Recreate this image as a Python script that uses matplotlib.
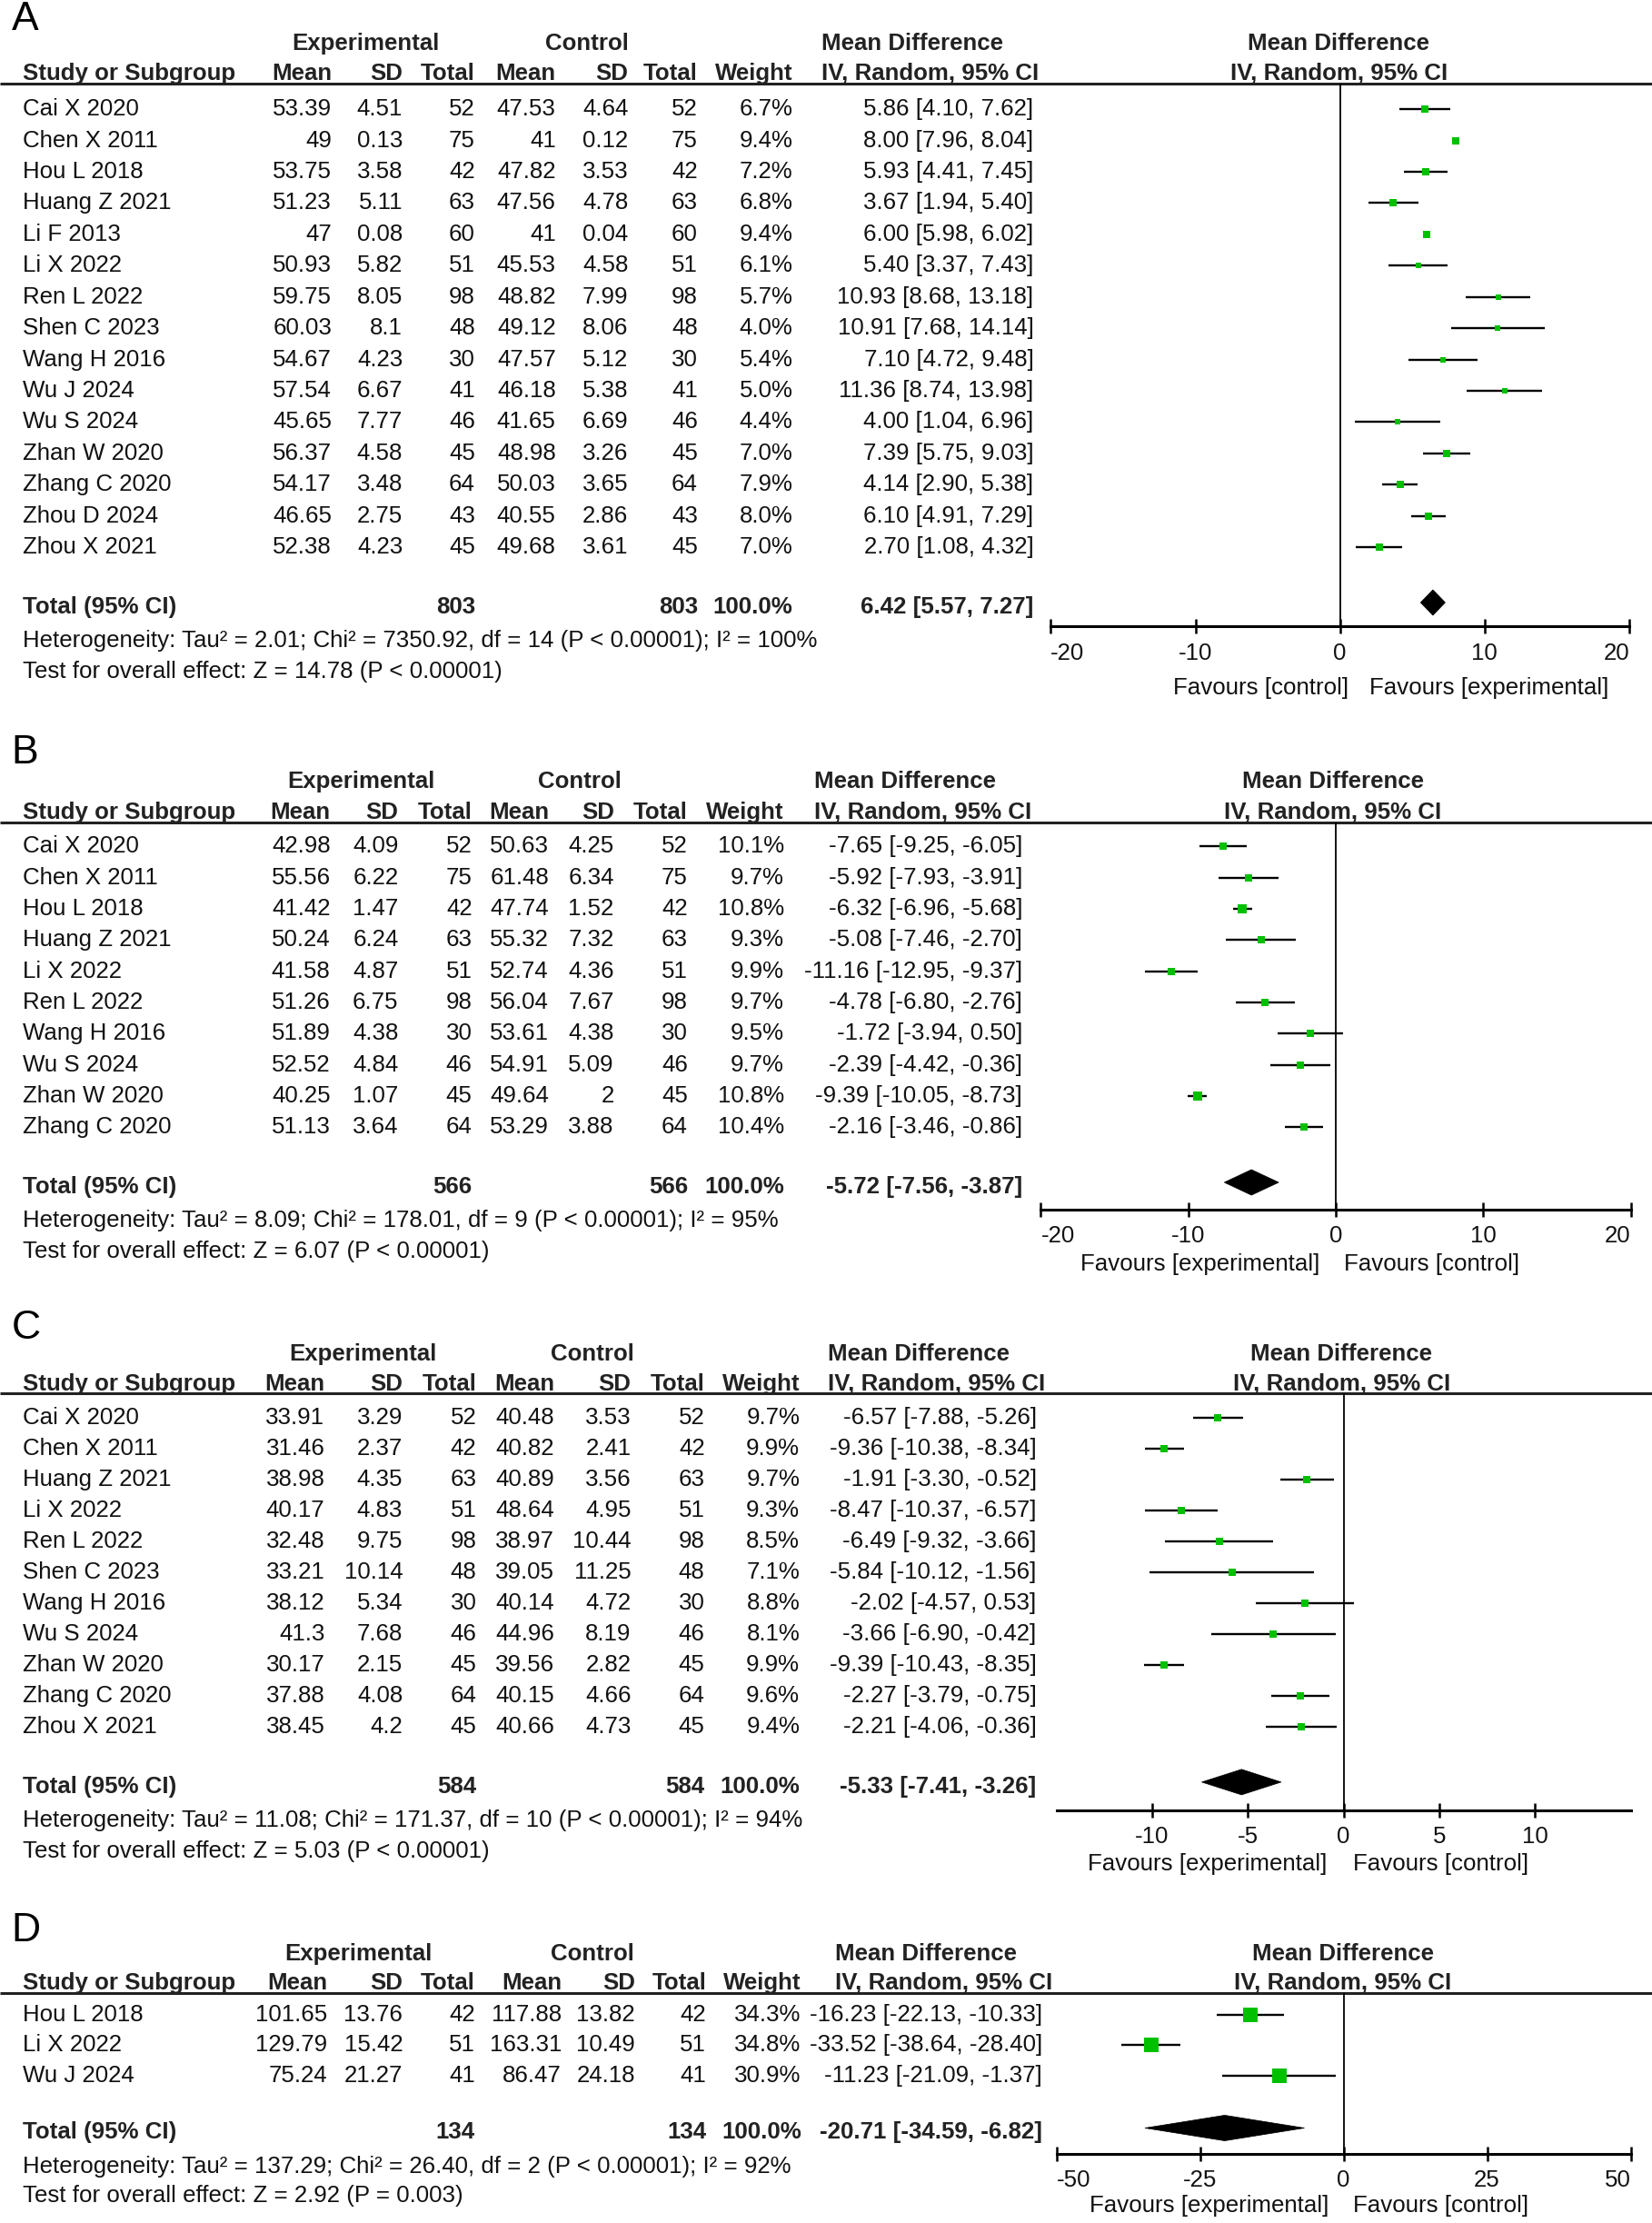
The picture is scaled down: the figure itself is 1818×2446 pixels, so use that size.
import numpy as np
import matplotlib.pyplot as plt
from matplotlib.patches import Polygon

plt.rcParams['font.family'] = ['Liberation Sans', 'DejaVu Sans']
plt.rcParams['axes.unicode_minus'] = False

W, H = 1165, 1568   # layout grid, the figure is drawn on this scale
FS = 18.6
GREEN = '#00C000'

# ---------------- Panel A
a_study = ['Cai X 2020', 'Chen X 2011', 'Hou L 2018', 'Huang Z 2021', 'Li F 2013',
           'Li X 2022', 'Ren L 2022', 'Shen C 2023', 'Wang H 2016', 'Wu J 2024',
           'Wu S 2024', 'Zhan W 2020', 'Zhang C 2020', 'Zhou D 2024', 'Zhou X 2021']
a_exp_mean = [53.39, 49, 53.75, 51.23, 47, 50.93, 59.75, 60.03, 54.67, 57.54, 45.65, 56.37, 54.17, 46.65, 52.38]
a_exp_sd = [4.51, 0.13, 3.58, 5.11, 0.08, 5.82, 8.05, 8.1, 4.23, 6.67, 7.77, 4.58, 3.48, 2.75, 4.23]
a_exp_n = [52, 75, 42, 63, 60, 51, 98, 48, 30, 41, 46, 45, 64, 43, 45]
a_ctl_mean = [47.53, 41, 47.82, 47.56, 41, 45.53, 48.82, 49.12, 47.57, 46.18, 41.65, 48.98, 50.03, 40.55, 49.68]
a_ctl_sd = [4.64, 0.12, 3.53, 4.78, 0.04, 4.58, 7.99, 8.06, 5.12, 5.38, 6.69, 3.26, 3.65, 2.86, 3.61]
a_ctl_n = [52, 75, 42, 63, 60, 51, 98, 48, 30, 41, 46, 45, 64, 43, 45]
a_weight = [6.7, 9.4, 7.2, 6.8, 9.4, 6.1, 5.7, 4.0, 5.4, 5.0, 4.4, 7.0, 7.9, 8.0, 7.0]
a_md = [5.86, 8.00, 5.93, 3.67, 6.00, 5.40, 10.93, 10.91, 7.10, 11.36, 4.00, 7.39, 4.14, 6.10, 2.70]
a_lo = [4.10, 7.96, 4.41, 1.94, 5.98, 3.37, 8.68, 7.68, 4.72, 8.74, 1.04, 5.75, 2.90, 4.91, 1.08]
a_hi = [7.62, 8.04, 7.45, 5.40, 6.02, 7.43, 13.18, 14.14, 9.48, 13.98, 6.96, 9.03, 5.38, 7.29, 4.32]
a_total = [803, 803, 6.42, 5.57, 7.27]
a_het = 'Heterogeneity: Tau² = 2.01; Chi² = 7350.92, df = 14 (P < 0.00001); I² = 100%'
a_test = 'Test for overall effect: Z = 14.78 (P < 0.00001)'
a_fav = ['Favours [control]', 'Favours [experimental]']

# ---------------- Panel B
b_study = ['Cai X 2020', 'Chen X 2011', 'Hou L 2018', 'Huang Z 2021', 'Li X 2022',
           'Ren L 2022', 'Wang H 2016', 'Wu S 2024', 'Zhan W 2020', 'Zhang C 2020']
b_exp_mean = [42.98, 55.56, 41.42, 50.24, 41.58, 51.26, 51.89, 52.52, 40.25, 51.13]
b_exp_sd = [4.09, 6.22, 1.47, 6.24, 4.87, 6.75, 4.38, 4.84, 1.07, 3.64]
b_exp_n = [52, 75, 42, 63, 51, 98, 30, 46, 45, 64]
b_ctl_mean = [50.63, 61.48, 47.74, 55.32, 52.74, 56.04, 53.61, 54.91, 49.64, 53.29]
b_ctl_sd = [4.25, 6.34, 1.52, 7.32, 4.36, 7.67, 4.38, 5.09, 2, 3.88]
b_ctl_n = [52, 75, 42, 63, 51, 98, 30, 46, 45, 64]
b_weight = [10.1, 9.7, 10.8, 9.3, 9.9, 9.7, 9.5, 9.7, 10.8, 10.4]
b_md = [-7.65, -5.92, -6.32, -5.08, -11.16, -4.78, -1.72, -2.39, -9.39, -2.16]
b_lo = [-9.25, -7.93, -6.96, -7.46, -12.95, -6.80, -3.94, -4.42, -10.05, -3.46]
b_hi = [-6.05, -3.91, -5.68, -2.70, -9.37, -2.76, 0.50, -0.36, -8.73, -0.86]
b_total = [566, 566, -5.72, -7.56, -3.87]
b_het = 'Heterogeneity: Tau² = 8.09; Chi² = 178.01, df = 9 (P < 0.00001); I² = 95%'
b_test = 'Test for overall effect: Z = 6.07 (P < 0.00001)'
b_fav = ['Favours [experimental]', 'Favours [control]']

# ---------------- Panel C
c_study = ['Cai X 2020', 'Chen X 2011', 'Huang Z 2021', 'Li X 2022', 'Ren L 2022', 'Shen C 2023',
           'Wang H 2016', 'Wu S 2024', 'Zhan W 2020', 'Zhang C 2020', 'Zhou X 2021']
c_exp_mean = [33.91, 31.46, 38.98, 40.17, 32.48, 33.21, 38.12, 41.3, 30.17, 37.88, 38.45]
c_exp_sd = [3.29, 2.37, 4.35, 4.83, 9.75, 10.14, 5.34, 7.68, 2.15, 4.08, 4.2]
c_exp_n = [52, 42, 63, 51, 98, 48, 30, 46, 45, 64, 45]
c_ctl_mean = [40.48, 40.82, 40.89, 48.64, 38.97, 39.05, 40.14, 44.96, 39.56, 40.15, 40.66]
c_ctl_sd = [3.53, 2.41, 3.56, 4.95, 10.44, 11.25, 4.72, 8.19, 2.82, 4.66, 4.73]
c_ctl_n = [52, 42, 63, 51, 98, 48, 30, 46, 45, 64, 45]
c_weight = [9.7, 9.9, 9.7, 9.3, 8.5, 7.1, 8.8, 8.1, 9.9, 9.6, 9.4]
c_md = [-6.57, -9.36, -1.91, -8.47, -6.49, -5.84, -2.02, -3.66, -9.39, -2.27, -2.21]
c_lo = [-7.88, -10.38, -3.30, -10.37, -9.32, -10.12, -4.57, -6.90, -10.43, -3.79, -4.06]
c_hi = [-5.26, -8.34, -0.52, -6.57, -3.66, -1.56, 0.53, -0.42, -8.35, -0.75, -0.36]
c_total = [584, 584, -5.33, -7.41, -3.26]
c_het = 'Heterogeneity: Tau² = 11.08; Chi² = 171.37, df = 10 (P < 0.00001); I² = 94%'
c_test = 'Test for overall effect: Z = 5.03 (P < 0.00001)'
c_fav = ['Favours [experimental]', 'Favours [control]']

# ---------------- Panel D
d_study = ['Hou L 2018', 'Li X 2022', 'Wu J 2024']
d_exp_mean = [101.65, 129.79, 75.24]
d_exp_sd = [13.76, 15.42, 21.27]
d_exp_n = [42, 51, 41]
d_ctl_mean = [117.88, 163.31, 86.47]
d_ctl_sd = [13.82, 10.49, 24.18]
d_ctl_n = [42, 51, 41]
d_weight = [34.3, 34.8, 30.9]
d_md = [-16.23, -33.52, -11.23]
d_lo = [-22.13, -38.64, -21.09]
d_hi = [-10.33, -28.40, -1.37]
d_total = [134, 134, -20.71, -34.59, -6.82]
d_het = 'Heterogeneity: Tau² = 137.29; Chi² = 26.40, df = 2 (P < 0.00001); I² = 92%'
d_test = 'Test for overall effect: Z = 2.92 (P = 0.003)'
d_fav = ['Favours [experimental]', 'Favours [control]']

# layout of each panel (grid units)
lay_a = dict(letter='A', ly=14, h1=31, h2=52, line=59, row0=77, step=22.07, tot=428, het=452, test=474,
             cols=[234, 284, 335, 392, 443, 492, 559, 729], mdl=579, expc=258, ctlc=414, rhc=944,
             x0=741, x1=1149, xlim=(-20, 20), ticks=[-20, -10, 0, 10, 20], axy=442,
             favy=485, favl=951, favr=966)
lay_b = dict(letter='B', ly=531, h1=551, h2=573, line=580, row0=597, step=22, tot=837, het=861, test=883,
             cols=[233, 281, 333, 387, 433, 485, 553, 721], mdl=574, expc=255, ctlc=409, rhc=940,
             x0=734, x1=1150, xlim=(-20, 20), ticks=[-20, -10, 0, 10, 20], axy=853,
             favy=892, favl=931, favr=948)
lay_c = dict(letter='C', ly=937, h1=955, h2=976, line=983, row0=1000, step=21.8, tot=1260, het=1284, test=1306,
             cols=[229, 284, 336, 391, 445, 497, 564, 731], mdl=584, expc=256, ctlc=418, rhc=946,
             x0=745, x1=1150, xlim=(-15, 15), ticks=[-10, -5, 0, 5, 10], axy=1277,
             favy=1315, favl=936, favr=954)
lay_d = dict(letter='D', ly=1362, h1=1378, h2=1399, line=1406, row0=1421, step=21.5, tot=1504, het=1528, test=1549,
             cols=[231, 284, 335, 396, 448, 498, 565, 735], mdl=589, expc=253, ctlc=418, rhc=947,
             x0=745, x1=1150, xlim=(-50, 50), ticks=[-50, -25, 0, 25, 50], axy=1519,
             favy=1556, favl=937, favr=954)


def fmt(v):
    return f"{v:g}"


def ci_text(m, l, h):
    return f"{m:.2f} [{l:.2f}, {h:.2f}]"


fig = plt.figure(figsize=(18.18, 24.46), dpi=100)
tab = fig.add_axes([0, 0, 1, 1])
tab.set_xlim(0, W)
tab.set_ylim(H, 0)
tab.axis('off')


def draw_panel(L, study, em, es, en, cm, cs, cn, wt, md, lo, hi, total, het, test, fav):
    t = dict(fontsize=FS, va='center', color='#111111')
    tb = dict(fontsize=FS, va='center', fontweight='bold', color='#222222')
    tab.text(8, L['ly'], L['letter'], fontsize=32, va='center', ha='left')
    # header
    tab.text(L['expc'], L['h1'], 'Experimental', ha='center', **tb)
    tab.text(L['ctlc'], L['h1'], 'Control', ha='center', **tb)
    tab.text(L['mdl'], L['h1'], 'Mean Difference', ha='left', **tb)
    tab.text(L['rhc'], L['h1'], 'Mean Difference', ha='center', **tb)
    tab.text(16, L['h2'], 'Study or Subgroup', ha='left', **tb)
    for x, s in zip(L['cols'][:7], ['Mean', 'SD', 'Total', 'Mean', 'SD', 'Total', 'Weight']):
        tab.text(x, L['h2'], s, ha='right', **tb)
    tab.text(L['mdl'], L['h2'], 'IV, Random, 95% CI', ha='left', **tb)
    tab.text(L['rhc'], L['h2'], 'IV, Random, 95% CI', ha='center', **tb)
    tab.plot([0, W], [L['line'], L['line']], color='#222222', lw=2.2, solid_capstyle='butt')

    ys = [L['row0'] + i * L['step'] for i in range(len(study))]
    c = L['cols']
    for i, y in enumerate(ys):
        tab.text(16, y, study[i], ha='left', **t)
        vals = [fmt(em[i]), fmt(es[i]), str(en[i]), fmt(cm[i]), fmt(cs[i]), str(cn[i]),
                f"{wt[i]:.1f}%", ci_text(md[i], lo[i], hi[i])]
        for x, s in zip(c, vals):
            tab.text(x, y, s, ha='right', **t)

    tab.text(16, L['tot'], 'Total (95% CI)', ha='left', **tb)
    tab.text(c[2], L['tot'], str(total[0]), ha='right', **tb)
    tab.text(c[5], L['tot'], str(total[1]), ha='right', **tb)
    tab.text(c[6], L['tot'], '100.0%', ha='right', **tb)
    tab.text(c[7], L['tot'], ci_text(*total[2:]), ha='right', **tb)
    tab.text(16, L['het'], het, ha='left', **t)
    tab.text(16, L['test'], test, ha='left', **t)
    tab.text(L['favl'], L['favy'], fav[0], ha='right', **t)
    tab.text(L['favr'], L['favy'], fav[1], ha='left', **t)

    # forest plot
    ax = fig.add_axes([L['x0'] / W, 1 - L['axy'] / H, (L['x1'] - L['x0']) / W, (L['axy'] - L['line']) / H])
    ax.patch.set_alpha(0)
    ax.set_xlim(*L['xlim'])
    ax.set_ylim(L['axy'], L['line'])
    for s in ['top', 'left', 'right']:
        ax.spines[s].set_visible(False)
    ax.spines['bottom'].set_linewidth(2.2)
    ax.set_yticks([])
    ax.set_xticks(L['ticks'])
    labels = ax.set_xticklabels([fmt(v) for v in L['ticks']])
    if L['ticks'][0] == L['xlim'][0]:
        labels[0].set_ha('left')
        labels[-1].set_ha('right')
    ax.tick_params(axis='x', direction='inout', length=11, width=1.8, labelsize=FS, pad=7,
                   labelcolor='#111111')
    ax.axvline(0, color='black', lw=1.3)
    ax.hlines(ys, lo, hi, color='black', lw=1.7)
    for y, m, w in zip(ys, md, wt):
        ax.plot(m, y, marker='s', ms=max(2.0 * np.sqrt(w), 4.5), mew=0, color=GREEN, zorder=3)
    m, l, h = total[2:]
    yt = L['tot'] - 3
    ax.add_patch(Polygon([[l, yt], [m, yt - 9], [h, yt], [m, yt + 9]], closed=True,
                         facecolor='black', edgecolor='black', lw=0.5))


draw_panel(lay_a, a_study, a_exp_mean, a_exp_sd, a_exp_n, a_ctl_mean, a_ctl_sd, a_ctl_n,
           a_weight, a_md, a_lo, a_hi, a_total, a_het, a_test, a_fav)
draw_panel(lay_b, b_study, b_exp_mean, b_exp_sd, b_exp_n, b_ctl_mean, b_ctl_sd, b_ctl_n,
           b_weight, b_md, b_lo, b_hi, b_total, b_het, b_test, b_fav)
draw_panel(lay_c, c_study, c_exp_mean, c_exp_sd, c_exp_n, c_ctl_mean, c_ctl_sd, c_ctl_n,
           c_weight, c_md, c_lo, c_hi, c_total, c_het, c_test, c_fav)
draw_panel(lay_d, d_study, d_exp_mean, d_exp_sd, d_exp_n, d_ctl_mean, d_ctl_sd, d_ctl_n,
           d_weight, d_md, d_lo, d_hi, d_total, d_het, d_test, d_fav)

fig.savefig('out.png', dpi=100)
